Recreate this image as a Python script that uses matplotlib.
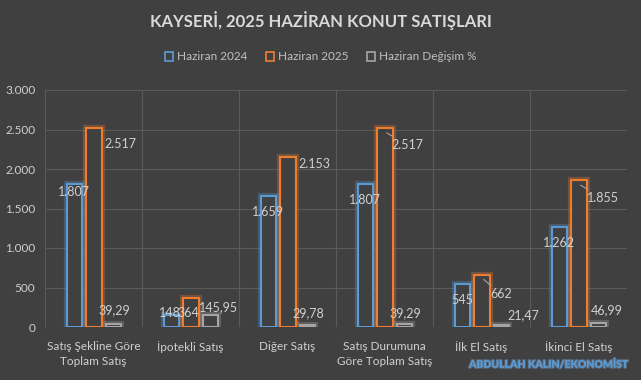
import matplotlib
matplotlib.use('Agg')
import matplotlib.pyplot as plt
import matplotlib.patheffects as pe
from matplotlib.patches import Rectangle
from matplotlib.ticker import FuncFormatter

# data
categories = ['Satış Şekline Göre\nToplam Satış', 'İpotekli Satış', 'Diğer Satış',
              'Satış Durumuna\nGöre Toplam Satış', 'İlk El Satış', 'İkinci El Satış']
haziran_2024 = [1807, 148, 1659, 1807, 545, 1262]
haziran_2025 = [2517, 364, 2153, 2517, 662, 1855]
degisim = [39.29, 145.95, 29.78, 39.29, 21.47, 46.99]
series_names = ['Haziran 2024', 'Haziran 2025', 'Haziran Değişim %']

# label offsets in pixels (dx, dy), dy positive = up
off_blue = [(0, -8), (-1, 2), (0, -16), (0, -16), (0, -16), (0, -16)]
off_orange = [(3, -16), (-21, -15), (3, -7), (5, -12), (7, -15), (6, -13)]
off_gray = [(0, 14), (8, 8), (0, 11), (0, 11), (21, 10), (8, 13)]
leader = [False, False, False, True, True, True]

bg = '#404040'
txt = '#d0d0d0'
grid_c = '#5a5a5a'
colors = ['#5b9bd5', '#ed7d31', '#a5a5a5']

plt.rcParams['font.family'] = ['Lato', 'DejaVu Sans']

def fmt_int(v):
    return f'{int(v):,}'.replace(',', '.')

def fmt_pct(v):
    return f'{v:.2f}'.replace('.', ',')

fig = plt.figure(figsize=(6.41, 3.80), dpi=100, facecolor=bg)
ax = fig.add_axes([45 / 641, 53 / 380, 582 / 641, 237 / 380], facecolor=bg)

x = list(range(len(categories)))
width = 0.155
shifts = [-0.2, 0.005, 0.21]
all_series = [haziran_2024, haziran_2025, degisim]

for s, vals in enumerate(all_series):
    xs = [i + shifts[s] for i in x]
    bars = ax.bar(xs, vals, width=width, facecolor=bg, edgecolor=colors[s],
                  linewidth=1.5, zorder=3)
    for b in bars:
        b.set_path_effects([pe.Stroke(linewidth=4.5, foreground=colors[s], alpha=0.3),
                            pe.Normal()])

fs = 9
for i in x:
    # blue
    ax.annotate(fmt_int(haziran_2024[i]), (i + shifts[0], haziran_2024[i]),
                xytext=off_blue[i], textcoords='offset pixels', ha='center',
                va='center', color=txt, fontsize=fs, zorder=5)
    # orange
    xr = i + shifts[1] + width / 2
    if leader[i]:
        ax.annotate(fmt_int(haziran_2025[i]), (xr - 0.06, haziran_2025[i] - 60),
                    xytext=off_orange[i], textcoords='offset pixels', ha='left',
                    va='center', color=txt, fontsize=fs, zorder=5,
                    arrowprops=dict(arrowstyle='-', color='#a6a6a6', lw=0.8,
                                    shrinkA=0, shrinkB=0))
    else:
        ax.annotate(fmt_int(haziran_2025[i]), (xr, haziran_2025[i]),
                    xytext=off_orange[i], textcoords='offset pixels', ha='left',
                    va='center', color=txt, fontsize=fs, zorder=5)
    # gray
    ax.annotate(fmt_pct(degisim[i]), (i + shifts[2], degisim[i]),
                xytext=off_gray[i], textcoords='offset pixels', ha='center',
                va='center', color=txt, fontsize=fs, zorder=5)

ax.set_xlim(-0.5, len(categories) - 0.5)
ax.set_ylim(0, 3000)
ax.set_yticks(range(0, 3001, 500))
ax.yaxis.set_major_formatter(FuncFormatter(lambda v, p: fmt_int(v)))
ax.set_xticks(x)
ax.set_xticklabels(categories, linespacing=1.5)
ax.set_xticks([i + 0.5 for i in range(-1, len(categories))], minor=True)
ax.tick_params(axis='both', which='both', length=0, colors=txt, labelsize=8.5)
ax.tick_params(axis='y', pad=7)
ax.tick_params(axis='x', pad=10)
ax.grid(axis='y', which='major', color=grid_c, linewidth=0.8, zorder=0)
ax.grid(axis='x', which='minor', color=grid_c, linewidth=0.8, zorder=0)
for sp in ax.spines.values():
    sp.set_visible(False)

fig.text(0.5, 1 - 21 / 380, 'KAYSERİ, 2025 HAZİRAN KONUT SATIŞLARI', ha='center',
         va='center', color='#d9d9d9', fontsize=12, fontweight='bold')

handles = [Rectangle((0, 0), 1, 1, facecolor='none', edgecolor=c, linewidth=1.2)
           for c in colors]
leg = fig.legend(handles, series_names, loc='center', ncol=3,
                 bbox_to_anchor=(0.5, 1 - 57 / 380), frameon=False, fontsize=8.5,
                 handlelength=0.7, handleheight=0.8, handletextpad=0.3,
                 columnspacing=1.6)
for t in leg.get_texts():
    t.set_color('#c0c0c0')

fig.text(628 / 641, 1 - 365 / 380, 'ABDULLAH KALIN/EKONOMİST', ha='right',
         va='center', color='#5b9bd5', fontsize=7.5, fontweight='heavy',
         path_effects=[pe.withStroke(linewidth=1.5, foreground='#7fb2e5', alpha=0.35)])

fig.savefig('out.png', dpi=100, facecolor=bg)
